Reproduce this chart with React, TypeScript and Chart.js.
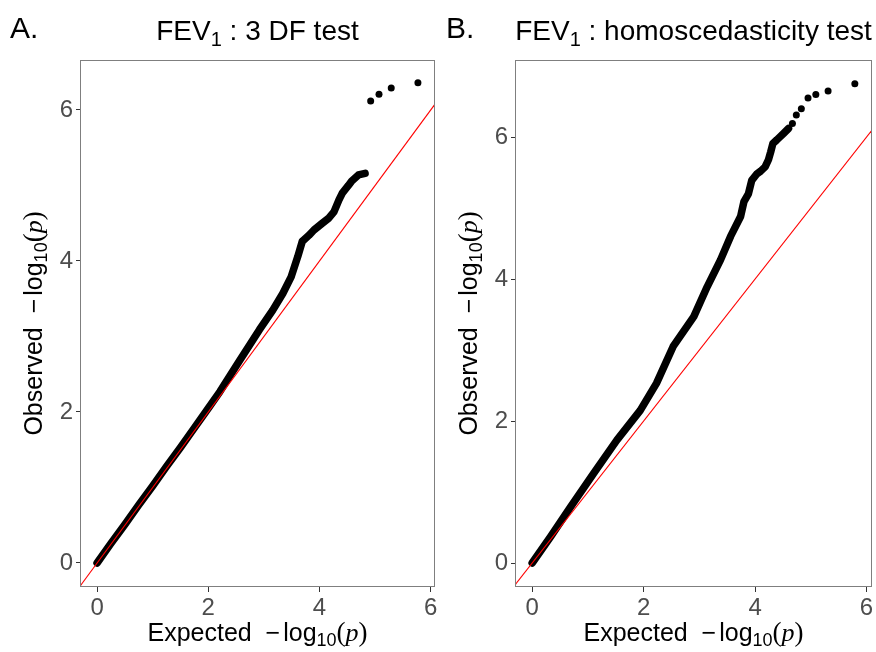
import React, { useEffect, useRef } from "react";
import { Chart, registerables } from "chart.js";

Chart.register(...registerables);

// ---------- data ----------
const xTicks = [0, 2, 4, 6];
const yTicks = [0, 2, 4, 6];

// Panel A: FEV1 : 3 DF test
const aDenseExpected = [0, 0.25, 0.5, 0.75, 1.0, 1.25, 1.5, 1.75, 2.0, 2.21, 2.57, 2.92, 3.16, 3.34, 3.49, 3.61, 3.69, 3.81, 3.9, 4.05, 4.17, 4.26, 4.35, 4.41, 4.52, 4.58, 4.7, 4.82];
const aDenseObserved = [0, 0.26, 0.51, 0.77, 1.02, 1.28, 1.53, 1.79, 2.05, 2.27, 2.69, 3.09, 3.35, 3.57, 3.79, 4.06, 4.26, 4.34, 4.41, 4.5, 4.57, 4.65, 4.81, 4.9, 5.0, 5.06, 5.14, 5.16];
const aTailExpected = [4.92, 5.07, 5.29, 5.77];
const aTailObserved = [6.12, 6.21, 6.29, 6.36];
const aXRange = [-0.289, 6.059];
const aYRange = [-0.318, 6.662];

// Panel B: FEV1 : homoscedasticity test
const bDenseExpected = [0, 0.33, 0.69, 1.1, 1.52, 1.94, 2.23, 2.53, 2.9, 3.14, 3.38, 3.56, 3.74, 3.8, 3.88, 3.94, 4.03, 4.1, 4.18, 4.24, 4.28, 4.32, 4.39, 4.51, 4.6];
const bDenseObserved = [0, 0.37, 0.79, 1.26, 1.73, 2.15, 2.53, 3.05, 3.47, 3.89, 4.27, 4.6, 4.88, 5.09, 5.2, 5.39, 5.48, 5.52, 5.58, 5.68, 5.79, 5.91, 5.96, 6.05, 6.12];
const bTailExpected = [4.67, 4.74, 4.83, 4.95, 5.09, 5.31, 5.79];
const bTailObserved = [6.19, 6.31, 6.4, 6.55, 6.6, 6.65, 6.75];
const bXRange = [-0.29, 6.08];
const bYRange = [-0.338, 7.085];

// ---------- styling ----------
const SANS = "'Liberation Sans', Arial, sans-serif";
const SERIF = "'Liberation Serif', 'Times New Roman', serif";
const W = 876;
const H = 652;
const TICK_SIZE = 24;
const AXIS_TITLE = 25;
const TITLE_SIZE = 28;
const TAG_SIZE = 30;

type Seg = { t: string; size: number; family?: string; italic?: boolean; dy?: number; dx?: number };

function segFont(s: Seg) {
  return `${s.italic ? "italic " : ""}${s.size}px ${s.family || SANS}`;
}
function segsWidth(ctx: CanvasRenderingContext2D, segs: Seg[]) {
  let w = 0;
  for (const s of segs) {
    ctx.font = segFont(s);
    w += ctx.measureText(s.t).width + (s.dx || 0);
  }
  return w;
}
function drawSegs(ctx: CanvasRenderingContext2D, segs: Seg[], x: number, y: number, align: "left" | "center") {
  const w = segsWidth(ctx, segs);
  let cx = align === "center" ? x - w / 2 : x;
  ctx.textAlign = "left";
  ctx.textBaseline = "alphabetic";
  for (const s of segs) {
    ctx.font = segFont(s);
    cx += s.dx || 0;
    ctx.fillText(s.t, cx, y + (s.dy || 0));
    cx += ctx.measureText(s.t).width;
  }
}

function logLabel(prefix: string): Seg[] {
  return [
    { t: prefix + "  ", size: AXIS_TITLE },
    { t: "\u2212", size: AXIS_TITLE },
    { t: "log", size: AXIS_TITLE, dx: 3 },
    { t: "10", size: 18, dy: 5 },
    { t: "(", size: 27, family: SERIF },
    { t: "p", size: 26, family: SERIF, italic: true },
    { t: ")", size: 27, family: SERIF },
  ];
}

type PanelDef = {
  left: number;
  canvasWidth: number;
  plotLeft: number;
  padRight: number;
  tag: string;
  tagX: number;
  titleRest: string;
  dense: { x: number; y: number }[];
  tail: { x: number; y: number }[];
  xRange: number[];
  yRange: number[];
};

const panels: PanelDef[] = [
  {
    left: 0,
    canvasWidth: 438,
    plotLeft: 81,
    padRight: 2,
    tag: "A.",
    tagX: 10,
    titleRest: " : 3 DF test",
    dense: aDenseExpected.map((x, i) => ({ x, y: aDenseObserved[i] })),
    tail: aTailExpected.map((x, i) => ({ x, y: aTailObserved[i] })),
    xRange: aXRange,
    yRange: aYRange,
  },
  {
    left: 438,
    canvasWidth: 438,
    plotLeft: 78,
    padRight: 5,
    tag: "B.",
    tagX: 8,
    titleRest: " : homoscedasticity test",
    dense: bDenseExpected.map((x, i) => ({ x, y: bDenseObserved[i] })),
    tail: bTailExpected.map((x, i) => ({ x, y: bTailObserved[i] })),
    xRange: bXRange,
    yRange: bYRange,
  },
];

function Panel({ def }: { def: PanelDef }) {
  const ref = useRef<HTMLCanvasElement | null>(null);
  useEffect(() => {
    const canvas = ref.current!;
    const textPlugin = {
      id: "richText",
      afterDatasetsDraw(chart: any) {
        const ctx: CanvasRenderingContext2D = chart.ctx;
        const a = chart.chartArea;
        ctx.save();
        ctx.strokeStyle = "#7f7f7f";
        ctx.lineWidth = 1;
        ctx.strokeRect(Math.round(a.left) - 0.5, Math.round(a.top) + 0.5, Math.round(a.right - a.left) + 1, Math.round(a.bottom - a.top) - 1);
        ctx.restore();
      },
      afterDraw(chart: any) {
        const ctx: CanvasRenderingContext2D = chart.ctx;
        const a = chart.chartArea;
        ctx.save();
        ctx.fillStyle = "#000";
        drawSegs(ctx, [{ t: def.tag, size: TAG_SIZE }], def.tagX, 38, "left");
        drawSegs(
          ctx,
          [
            { t: "FEV", size: TITLE_SIZE },
            { t: "1", size: 20, dy: 6 },
            { t: def.titleRest, size: TITLE_SIZE },
          ],
          (a.left + a.right) / 2,
          40,
          "center"
        );
        drawSegs(ctx, logLabel("Expected"), (a.left + a.right) / 2, 641, "center");
        ctx.translate(def.plotLeft - 39.5, (a.top + a.bottom) / 2);
        ctx.rotate(-Math.PI / 2);
        drawSegs(ctx, logLabel("Observed"), 0, 0, "center");
        ctx.restore();
      },
    };

    const tickFont = { family: SANS, size: TICK_SIZE };
    const chart = new Chart(canvas, {
      type: "scatter",
      data: {
        datasets: [
          {
            type: "line",
            data: [
              { x: -1, y: -1 },
              { x: 8, y: 8 },
            ],
            borderColor: "#ff0000",
            borderWidth: 1.1,
            pointRadius: 0,
            clip: 0,
          } as any,
          {
            type: "line",
            data: def.dense,
            borderColor: "#000000",
            borderWidth: 7.5,
            pointRadius: 0,
            borderCapStyle: "round",
            borderJoinStyle: "round",
            tension: 0,
          } as any,
          {
            type: "scatter",
            data: def.tail,
            backgroundColor: "#000000",
            borderWidth: 0,
            pointRadius: 3.5,
          } as any,
        ],
      },
      options: {
        responsive: false,
        maintainAspectRatio: false,
        animation: false,
        layout: { padding: { top: 60, right: def.padRight, left: 0, bottom: 0 } },
        plugins: { legend: { display: false }, tooltip: { enabled: false } },
        scales: {
          x: {
            type: "linear",
            min: def.xRange[0],
            max: def.xRange[1],
            afterBuildTicks: (s: any) => {
              s.ticks = xTicks.map((v) => ({ value: v }));
            },
            afterFit: (s: any) => {
              s.height = 65;
              s.paddingLeft = 0;
              s.paddingRight = 0;
            },
            grid: { display: true, drawOnChartArea: false, drawTicks: true, tickLength: 5, color: "#333333", lineWidth: 1 },
            border: { display: false },
            ticks: { font: tickFont, color: "#4d4d4d", padding: 2, maxRotation: 0, autoSkip: false },
          },
          y: {
            type: "linear",
            min: def.yRange[0],
            max: def.yRange[1],
            afterBuildTicks: (s: any) => {
              s.ticks = yTicks.map((v) => ({ value: v }));
            },
            afterFit: (s: any) => {
              s.width = def.plotLeft;
              s.paddingTop = 0;
              s.paddingBottom = 0;
            },
            grid: { display: true, drawOnChartArea: false, drawTicks: true, tickLength: 5, color: "#333333", lineWidth: 1 },
            border: { display: false },
            ticks: { font: tickFont, color: "#4d4d4d", padding: 3, autoSkip: false },
          },
        },
      } as any,
      plugins: [textPlugin],
    });
    return () => chart.destroy();
  }, [def]);

  return (
    <canvas
      ref={ref}
      width={def.canvasWidth}
      height={H}
      style={{ position: "absolute", left: def.left, top: 0, width: def.canvasWidth, height: H }}
    />
  );
}

export default function App() {
  return (
    <div style={{ position: "absolute", left: 0, top: 0, width: W, height: H, background: "#ffffff" }}>
      {panels.map((p) => (
        <Panel key={p.tag} def={p} />
      ))}
    </div>
  );
}
